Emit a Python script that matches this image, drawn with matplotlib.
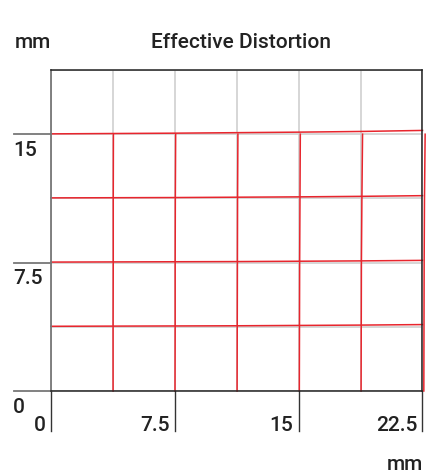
import matplotlib
matplotlib.use("Agg")
import matplotlib.pyplot as plt
from matplotlib.transforms import blended_transform_factory as btf

# ---- data ----
x_nodes = [0, 3.75, 7.5, 11.25, 15, 18.75, 22.5]
y_nodes = [0, 3.75, 7.5, 11.25, 15]

# distorted horizontal lines: y-values at each x node, one list per nominal y
h_y1 = [3.78, 3.79, 3.80, 3.81, 3.83, 3.85, 3.88]
h_y2 = [7.53, 7.54, 7.55, 7.56, 7.58, 7.60, 7.63]
h_y3 = [11.28, 11.29, 11.30, 11.32, 11.34, 11.37, 11.41]
h_y4 = [15.02, 15.04, 15.06, 15.09, 15.12, 15.16, 15.22]
h_lines = [h_y1, h_y2, h_y3, h_y4]

# distorted vertical lines: x-values at each y node, one list per nominal x
v_x1 = [3.76, 3.76, 3.77, 3.77, 3.78]
v_x2 = [7.51, 7.52, 7.52, 7.53, 7.55]
v_x3 = [11.27, 11.28, 11.29, 11.30, 11.32]
v_x4 = [15.04, 15.05, 15.06, 15.08, 15.10]
v_x5 = [18.78, 18.79, 18.80, 18.83, 18.87]
v_x6 = [22.58, 22.59, 22.60, 22.62, 22.66]
v_lines = [v_x1, v_x2, v_x3, v_x4, v_x5, v_x6]

x_ticks = [0, 7.5, 15, 22.5]
x_tick_labels = ["0", "7.5", "15", "22.5"]
y_ticks = [0, 7.5, 15]
y_tick_labels = ["0", "7.5", "15"]
grid_step = 3.75
x_max = 22.5
y_max = 18.75

title = "Effective Distortion"
unit = "mm"

# ---- figure ----
plt.rcParams['font.family'] = ['Roboto', 'DejaVu Sans']
FS = 15
FW = 500
W, H = 435, 474
fig = plt.figure(figsize=(W / 100, H / 100), dpi=100)
ax = fig.add_axes([51 / W, (H - 391) / H, (422.5 - 51) / W, (391 - 70) / H])
ax.set_xlim(0, x_max)
ax.set_ylim(0, y_max)
ax.set_xticks([])
ax.set_yticks([])

grid_color = "#cfcfcf"
g = 0.0
while g <= x_max + 1e-9:
    ax.axvline(g, color=grid_color, lw=1.2, zorder=1)
    g += grid_step
g = 0.0
while g <= y_max + 1e-9:
    ax.axhline(g, color=grid_color, lw=1.2, zorder=1)
    g += grid_step

red = "#e8252d"
for yv in h_lines:
    ax.plot(x_nodes, yv, color=red, lw=1.1, zorder=3, clip_on=False)
for xv in v_lines:
    ax.plot(xv, y_nodes, color=red, lw=1.1, zorder=3, clip_on=False)

for s in ["top", "right", "bottom"]:
    ax.spines[s].set_color("#222222")
    ax.spines[s].set_linewidth(1.1)
ax.spines["left"].set_color("#777777")
ax.spines["left"].set_linewidth(1.3)
for s in ax.spines.values():
    s.set_zorder(4)

# y ticks: lines extending left, labels below the line
ty = btf(fig.transFigure, ax.transData)
for v, lab in zip(y_ticks, y_tick_labels):
    ax.plot([14 / W, 51 / W], [v, v], transform=ty, color="#777777", lw=1.3, clip_on=False, zorder=4)
    ax.text(13 / W, v - 0.4, lab, transform=ty, ha="left", va="top", fontsize=FS,
            fontweight=FW, color="#222222", clip_on=False)

# x ticks: lines extending down, labels left of the line
tx = btf(ax.transData, fig.transFigure)
for v, lab in zip(x_ticks, x_tick_labels):
    ax.plot([v, v], [(H - 391) / H, (H - 431) / H], transform=tx, color="#333333", lw=1.0,
            clip_on=False, zorder=4)
    ax.text(v - 0.33, (H - 431) / H, lab, transform=tx, ha="right", va="baseline",
            fontsize=FS, fontweight=FW, color="#222222")

fig.text(15 / W, (H - 48) / H, unit, ha="left", va="baseline", fontsize=FS, fontweight=FW,
         color="#222222")
fig.text(241 / W, (H - 48) / H, title, ha="center", va="baseline", fontsize=FS, fontweight=FW,
         color="#222222")
fig.text(423 / W, (H - 470) / H, unit, ha="right", va="baseline", fontsize=FS, fontweight=FW,
         color="#222222")

fig.savefig("out.png", dpi=100)
